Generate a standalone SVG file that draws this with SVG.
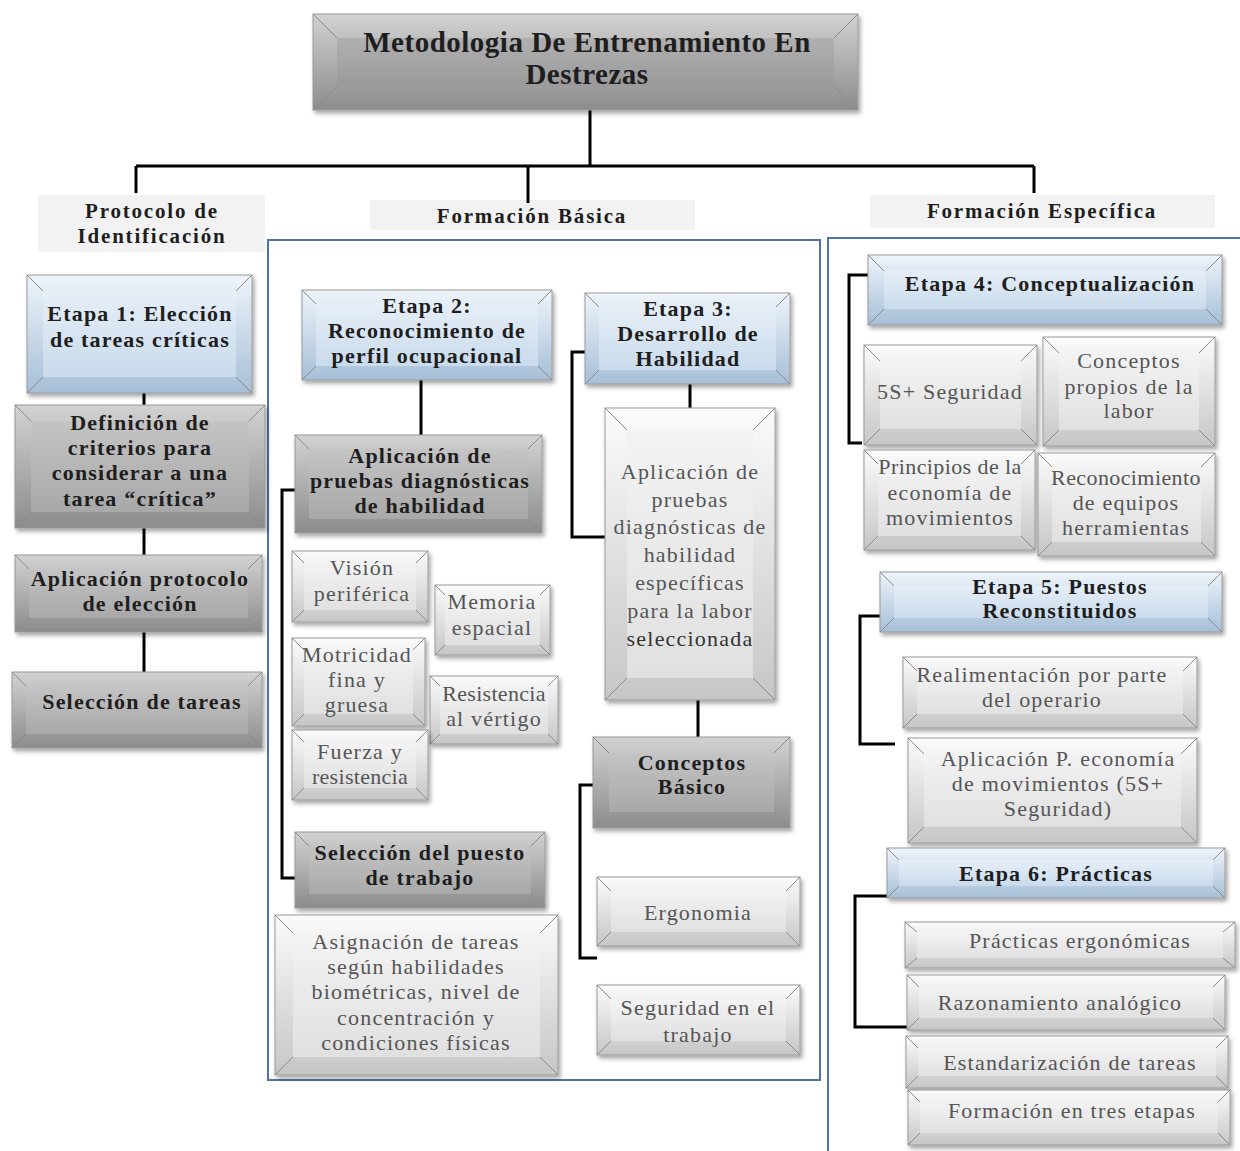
<svg xmlns="http://www.w3.org/2000/svg" width="1240" height="1151" viewBox="0 0 1240 1151">
<defs>
<linearGradient id="gO" x1="0" y1="0" x2="0" y2="1"><stop offset="0" stop-color="#d2d2d2"/><stop offset="1" stop-color="#8c8c8c"/></linearGradient>
<linearGradient id="gI" x1="0" y1="0" x2="0" y2="1"><stop offset="0" stop-color="#c4c4c4"/><stop offset="1" stop-color="#a8a8a8"/></linearGradient>
<linearGradient id="tI" x1="0" y1="0" x2="0" y2="1"><stop offset="0" stop-color="#b0b0b0"/><stop offset="1" stop-color="#9a9a9a"/></linearGradient>
<linearGradient id="lO" x1="0" y1="0" x2="0" y2="1"><stop offset="0" stop-color="#fbfbfb"/><stop offset="1" stop-color="#c6c6c6"/></linearGradient>
<linearGradient id="lI" x1="0" y1="0" x2="0" y2="1"><stop offset="0" stop-color="#f3f3f3"/><stop offset="1" stop-color="#e0e0e0"/></linearGradient>
<linearGradient id="bO" x1="0" y1="0" x2="0" y2="1"><stop offset="0" stop-color="#eef4fa"/><stop offset="1" stop-color="#a6bfd8"/></linearGradient>
<linearGradient id="bI" x1="0" y1="0" x2="0" y2="1"><stop offset="0" stop-color="#e6eef7"/><stop offset="1" stop-color="#c9dbec"/></linearGradient>
<filter id="sh" x="-10%" y="-10%" width="120%" height="130%"><feDropShadow dx="2" dy="3" stdDeviation="2" flood-color="#000" flood-opacity="0.35"/></filter>
</defs>
<style>
.gray .o{fill:url(#gO)} .gray .i{fill:url(#gI)}
.title .o{fill:url(#gO)} .title .i{fill:url(#tI)}
.light .o{fill:url(#lO)} .light .i{fill:url(#lI)}
.blue .o{fill:url(#bO)} .blue .i{fill:url(#bI)}
.o{filter:url(#sh);stroke:#9a9a9a;stroke-width:1}
.b{stroke:#8a8a8a;stroke-width:1;fill:none}
text{font-family:"Liberation Serif","Times New Roman",serif;text-anchor:middle}
.bt{font-weight:bold;font-size:22px;letter-spacing:1.2px;fill:#1e1e1e}
.nt{font-size:22px;letter-spacing:1.2px;fill:#555}
.tt{font-weight:bold;font-size:29px;letter-spacing:0.5px;fill:#1e1e1e}
.lbl{font-weight:bold;font-size:21px;letter-spacing:1.8px;fill:#1e1e1e}
.lbg{fill:#f2f2f2}
.c{stroke:#000;stroke-width:3;fill:none}
.panel{stroke:#4f73a8;stroke-width:2;fill:none}
</style>
<rect width="1240" height="1151" fill="#fff"/>

<g id="panels">
<rect class="panel" x="268" y="240" width="552" height="840"/>
<path class="panel" d="M1240,238 H828 V1151"/>
</g>

<g id="labels">
<g id="lbl-protocolo"><rect class="lbg" x="38" y="195" width="227" height="57"/><text class="lbl" x="152" y="218">Protocolo de</text><text class="lbl" x="152" y="243">Identificación</text></g>
<g id="lbl-basica"><rect class="lbg" x="370" y="200" width="325" height="30"/><text class="lbl" x="532" y="223">Formación Básica</text></g>
<g id="lbl-especifica"><rect class="lbg" x="870" y="195" width="345" height="33"/><text class="lbl" x="1042" y="218">Formación Específica</text></g>
</g>

<g id="connectors">
<path class="c" d="M590,110 V166 M136,166 H1034 M136,166 V193 M528,166 V203 M1034,166 V193"/>
<path class="c" d="M144,393 V405 M144,528 V555 M144,632 V672"/>
<path class="c" d="M421,380 V435"/>
<path class="c" d="M690,384 V408 M698,700 V737"/>
<path class="c" d="M295,490 H282 V878 H295"/>
<path class="c" d="M585,352 H572 V537 H605"/>
<path class="c" d="M593,785 H580 V958 H597"/>
<path class="c" d="M868,275 H849 V443 H862"/>
<path class="c" d="M880,616 H860 V744 H895"/>
<path class="c" d="M887,896 H855 V1027 H915"/>
</g>

<g id="title" class="title">
<rect class="o" x="313" y="14" width="545" height="96"/>
<rect class="i" x="337" y="38" width="497" height="48"/>
<path class="b" d="M313,14 L337,38 M858,14 L834,38 M313,110 L337,86 M858,110 L834,86"/>
<text class="tt" x="587" y="52">Metodologia De Entrenamiento En</text>
<text class="tt" x="587" y="84">Destrezas</text>
</g>

<g id="etapa1" class="blue">
<rect class="o" x="27" y="275" width="225" height="118"/>
<rect class="i" x="43" y="291" width="193" height="86"/>
<path class="b" d="M27,275 L43,291 M252,275 L236,291 M27,393 L43,377 M252,393 L236,377"/>
<text class="bt" x="140" y="321">Etapa 1: Elección</text>
<text class="bt" x="140" y="347">de tareas críticas</text>
</g>

<g id="definicion" class="gray">
<rect class="o" x="15" y="405" width="250" height="123"/>
<rect class="i" x="31" y="421" width="218" height="91"/>
<path class="b" d="M15,405 L31,421 M265,405 L249,421 M15,528 L31,512 M265,528 L249,512"/>
<text class="bt" x="140" y="430">Definición de</text>
<text class="bt" x="140" y="455">criterios para</text>
<text class="bt" x="140" y="480">considerar a una</text>
<text class="bt" x="140" y="506">tarea “crítica”</text>
</g>

<g id="aplic-protocolo" class="gray">
<rect class="o" x="15" y="555" width="247" height="77"/>
<rect class="i" x="29" y="569" width="219" height="49"/>
<path class="b" d="M15,555 L29,569 M262,555 L248,569 M15,632 L29,618 M262,632 L248,618"/>
<text class="bt" x="140" y="586">Aplicación protocolo</text>
<text class="bt" x="140" y="611">de elección</text>
</g>

<g id="seleccion-tareas" class="gray">
<rect class="o" x="12" y="672" width="250" height="76"/>
<rect class="i" x="26" y="686" width="222" height="48"/>
<path class="b" d="M12,672 L26,686 M262,672 L248,686 M12,748 L26,734 M262,748 L248,734"/>
<text class="bt" x="142" y="709">Selección de tareas</text>
</g>

<g id="etapa2" class="blue">
<rect class="o" x="302" y="290" width="250" height="90"/>
<rect class="i" x="316" y="304" width="222" height="62"/>
<path class="b" d="M302,290 L316,304 M552,290 L538,304 M302,380 L316,366 M552,380 L538,366"/>
<text class="bt" x="427" y="313">Etapa 2:</text>
<text class="bt" x="427" y="338">Reconocimiento de</text>
<text class="bt" x="427" y="363">perfil ocupacional</text>
</g>

<g id="aplic-pruebas" class="gray">
<rect class="o" x="295" y="435" width="247" height="98"/>
<rect class="i" x="309" y="449" width="219" height="70"/>
<path class="b" d="M295,435 L309,449 M542,435 L528,449 M295,533 L309,519 M542,533 L528,519"/>
<text class="bt" x="420" y="463">Aplicación de</text>
<text class="bt" x="420" y="488">pruebas diagnósticas</text>
<text class="bt" x="420" y="513">de habilidad</text>
</g>

<g id="vision" class="light">
<rect class="o" x="292" y="551" width="136" height="71"/>
<rect class="i" x="304" y="563" width="112" height="47"/>
<path class="b" d="M292,551 L304,563 M428,551 L416,563 M292,622 L304,610 M428,622 L416,610"/>
<text class="nt" x="362" y="575">Visión</text>
<text class="nt" x="362" y="601">periférica</text>
</g>

<g id="memoria" class="light">
<rect class="o" x="435" y="585" width="115" height="70"/>
<rect class="i" x="445" y="595" width="95" height="50"/>
<path class="b" d="M435,585 L445,595 M550,585 L540,595 M435,655 L445,645 M550,655 L540,645"/>
<text class="nt" x="492" y="609">Memoria</text>
<text class="nt" x="492" y="635">espacial</text>
</g>

<g id="motricidad" class="light">
<rect class="o" x="292" y="638" width="133" height="88"/>
<rect class="i" x="304" y="650" width="109" height="64"/>
<path class="b" d="M292,638 L304,650 M425,638 L413,650 M292,726 L304,714 M425,726 L413,714"/>
<text class="nt" x="357" y="662">Motricidad</text>
<text class="nt" x="357" y="687">fina y</text>
<text class="nt" x="357" y="712">gruesa</text>
</g>

<g id="resistencia" class="light">
<rect class="o" x="430" y="676" width="128" height="68"/>
<rect class="i" x="440" y="686" width="108" height="48"/>
<path class="b" d="M430,676 L440,686 M558,676 L548,686 M430,744 L440,734 M558,744 L548,734"/>
<text class="nt" x="494" y="701" style="letter-spacing:0.3px">Resistencia</text>
<text class="nt" x="494" y="726">al vértigo</text>
</g>

<g id="fuerza" class="light">
<rect class="o" x="292" y="730" width="136" height="70"/>
<rect class="i" x="304" y="742" width="112" height="46"/>
<path class="b" d="M292,730 L304,742 M428,730 L416,742 M292,800 L304,788 M428,800 L416,788"/>
<text class="nt" x="360" y="759">Fuerza y</text>
<text class="nt" x="360" y="784" style="letter-spacing:0.3px">resistencia</text>
</g>

<g id="seleccion-puesto" class="gray">
<rect class="o" x="295" y="832" width="250" height="76"/>
<rect class="i" x="309" y="846" width="222" height="48"/>
<path class="b" d="M295,832 L309,846 M545,832 L531,846 M295,908 L309,894 M545,908 L531,894"/>
<text class="bt" x="420" y="860">Selección del puesto</text>
<text class="bt" x="420" y="885">de trabajo</text>
</g>

<g id="asignacion" class="light">
<rect class="o" x="275" y="915" width="283" height="160"/>
<rect class="i" x="293" y="933" width="247" height="124"/>
<path class="b" d="M275,915 L293,933 M558,915 L540,933 M275,1075 L293,1057 M558,1075 L540,1057"/>
<text class="nt" x="416" y="949">Asignación de tareas</text>
<text class="nt" x="416" y="974">según habilidades</text>
<text class="nt" x="416" y="999">biométricas, nivel de</text>
<text class="nt" x="416" y="1025">concentración y</text>
<text class="nt" x="416" y="1050">condiciones físicas</text>
</g>

<g id="etapa3" class="blue">
<rect class="o" x="585" y="293" width="205" height="91"/>
<rect class="i" x="599" y="307" width="177" height="63"/>
<path class="b" d="M585,293 L599,307 M790,293 L776,307 M585,384 L599,370 M790,384 L776,370"/>
<text class="bt" x="688" y="316">Etapa 3:</text>
<text class="bt" x="688" y="341">Desarrollo de</text>
<text class="bt" x="688" y="366">Habilidad</text>
</g>

<g id="aplic-especificas" class="light">
<rect class="o" x="605" y="408" width="170" height="292"/>
<rect class="i" x="627" y="430" width="126" height="248"/>
<path class="b" d="M605,408 L627,430 M775,408 L753,430 M605,700 L627,678 M775,700 L753,678"/>
<text class="nt" x="690" y="479">Aplicación de</text>
<text class="nt" x="690" y="507">pruebas</text>
<text class="nt" x="690" y="534">diagnósticas de</text>
<text class="nt" x="690" y="562">habilidad</text>
<text class="nt" x="690" y="590">específicas</text>
<text class="nt" x="690" y="618">para la labor</text>
<text class="nt" x="690" y="646" style="fill:#333">seleccionada</text>
</g>

<g id="conceptos-basico" class="gray">
<rect class="o" x="593" y="737" width="197" height="91"/>
<rect class="i" x="609" y="753" width="165" height="59"/>
<path class="b" d="M593,737 L609,753 M790,737 L774,753 M593,828 L609,812 M790,828 L774,812"/>
<text class="bt" x="692" y="770">Conceptos</text>
<text class="bt" x="692" y="794">Básico</text>
</g>

<g id="ergonomia" class="light">
<rect class="o" x="597" y="877" width="203" height="69"/>
<rect class="i" x="611" y="891" width="175" height="41"/>
<path class="b" d="M597,877 L611,891 M800,877 L786,891 M597,946 L611,932 M800,946 L786,932"/>
<text class="nt" x="698" y="920">Ergonomia</text>
</g>

<g id="seguridad-trabajo" class="light">
<rect class="o" x="597" y="985" width="203" height="70"/>
<rect class="i" x="611" y="999" width="175" height="42"/>
<path class="b" d="M597,985 L611,999 M800,985 L786,999 M597,1055 L611,1041 M800,1055 L786,1041"/>
<text class="nt" x="698" y="1015">Seguridad en el</text>
<text class="nt" x="698" y="1042">trabajo</text>
</g>

<g id="etapa4" class="blue">
<rect class="o" x="868" y="255" width="354" height="70"/>
<rect class="i" x="884" y="271" width="322" height="38"/>
<path class="b" d="M868,255 L884,271 M1222,255 L1206,271 M868,325 L884,309 M1222,325 L1206,309"/>
<text class="bt" x="1050" y="291">Etapa 4: Conceptualización</text>
</g>

<g id="cinco-s" class="light">
<rect class="o" x="864" y="345" width="173" height="100"/>
<rect class="i" x="880" y="361" width="141" height="68"/>
<path class="b" d="M864,345 L880,361 M1037,345 L1021,361 M864,445 L880,429 M1037,445 L1021,429"/>
<text class="nt" x="950" y="399">5S+ Seguridad</text>
</g>

<g id="conceptos-propios" class="light">
<rect class="o" x="1043" y="337" width="172" height="109"/>
<rect class="i" x="1059" y="353" width="140" height="77"/>
<path class="b" d="M1043,337 L1059,353 M1215,337 L1199,353 M1043,446 L1059,430 M1215,446 L1199,430"/>
<text class="nt" x="1129" y="368">Conceptos</text>
<text class="nt" x="1129" y="394">propios de la</text>
<text class="nt" x="1129" y="418">labor</text>
</g>

<g id="principios" class="light">
<rect class="o" x="864" y="450" width="171" height="100"/>
<rect class="i" x="878" y="464" width="143" height="72"/>
<path class="b" d="M864,450 L878,464 M1035,450 L1021,464 M864,550 L878,536 M1035,550 L1021,536"/>
<text class="nt" x="950" y="474" style="letter-spacing:0.4px">Principios de la</text>
<text class="nt" x="950" y="500">economía de</text>
<text class="nt" x="950" y="525">movimientos</text>
</g>

<g id="reconocimiento" class="light">
<rect class="o" x="1038" y="453" width="177" height="103"/>
<rect class="i" x="1052" y="467" width="149" height="75"/>
<path class="b" d="M1038,453 L1052,467 M1215,453 L1201,467 M1038,556 L1052,542 M1215,556 L1201,542"/>
<text class="nt" x="1126" y="485" style="letter-spacing:0.4px">Reconocimiento</text>
<text class="nt" x="1126" y="510">de equipos</text>
<text class="nt" x="1126" y="535">herramientas</text>
</g>

<g id="etapa5" class="blue">
<rect class="o" x="880" y="572" width="342" height="60"/>
<rect class="i" x="894" y="586" width="314" height="32"/>
<path class="b" d="M880,572 L894,586 M1222,572 L1208,586 M880,632 L894,618 M1222,632 L1208,618"/>
<text class="bt" x="1060" y="594">Etapa 5: Puestos</text>
<text class="bt" x="1060" y="618">Reconstituidos</text>
</g>

<g id="realimentacion" class="light">
<rect class="o" x="903" y="657" width="294" height="71"/>
<rect class="i" x="917" y="671" width="266" height="43"/>
<path class="b" d="M903,657 L917,671 M1197,657 L1183,671 M903,728 L917,714 M1197,728 L1183,714"/>
<text class="nt" x="1042" y="682">Realimentación por parte</text>
<text class="nt" x="1042" y="707">del operario</text>
</g>

<g id="aplic-economia" class="light">
<rect class="o" x="908" y="738" width="289" height="105"/>
<rect class="i" x="924" y="754" width="257" height="73"/>
<path class="b" d="M908,738 L924,754 M1197,738 L1181,754 M908,843 L924,827 M1197,843 L1181,827"/>
<text class="nt" x="1058" y="766">Aplicación P. economía</text>
<text class="nt" x="1058" y="791">de movimientos (5S+</text>
<text class="nt" x="1058" y="816">Seguridad)</text>
</g>

<g id="etapa6" class="blue">
<rect class="o" x="887" y="848" width="338" height="50"/>
<rect class="i" x="899" y="860" width="314" height="26"/>
<path class="b" d="M887,848 L899,860 M1225,848 L1213,860 M887,898 L899,886 M1225,898 L1213,886"/>
<text class="bt" x="1056" y="881">Etapa 6: Prácticas</text>
</g>

<g id="practicas-ergonomicas" class="light">
<rect class="o" x="905" y="922" width="330" height="46"/>
<rect class="i" x="917" y="932" width="306" height="26"/>
<path class="b" d="M905,922 L917,932 M1235,922 L1223,932 M905,968 L917,958 M1235,968 L1223,958"/>
<text class="nt" x="1080" y="948">Prácticas ergonómicas</text>
</g>

<g id="razonamiento" class="light">
<rect class="o" x="907" y="975" width="318" height="55"/>
<rect class="i" x="919" y="987" width="294" height="31"/>
<path class="b" d="M907,975 L919,987 M1225,975 L1213,987 M907,1030 L919,1018 M1225,1030 L1213,1018"/>
<text class="nt" x="1060" y="1010">Razonamiento analógico</text>
</g>

<g id="estandarizacion" class="light">
<rect class="o" x="906" y="1036" width="322" height="52"/>
<rect class="i" x="918" y="1048" width="298" height="28"/>
<path class="b" d="M906,1036 L918,1048 M1228,1036 L1216,1048 M906,1088 L918,1076 M1228,1088 L1216,1076"/>
<text class="nt" x="1070" y="1070">Estandarización de tareas</text>
</g>

<g id="formacion-tres" class="light">
<rect class="o" x="908" y="1090" width="322" height="55"/>
<rect class="i" x="920" y="1102" width="298" height="31"/>
<path class="b" d="M908,1090 L920,1102 M1230,1090 L1218,1102 M908,1145 L920,1133 M1230,1145 L1218,1133"/>
<text class="nt" x="1072" y="1118">Formación en tres etapas</text>
</g>
</svg>
